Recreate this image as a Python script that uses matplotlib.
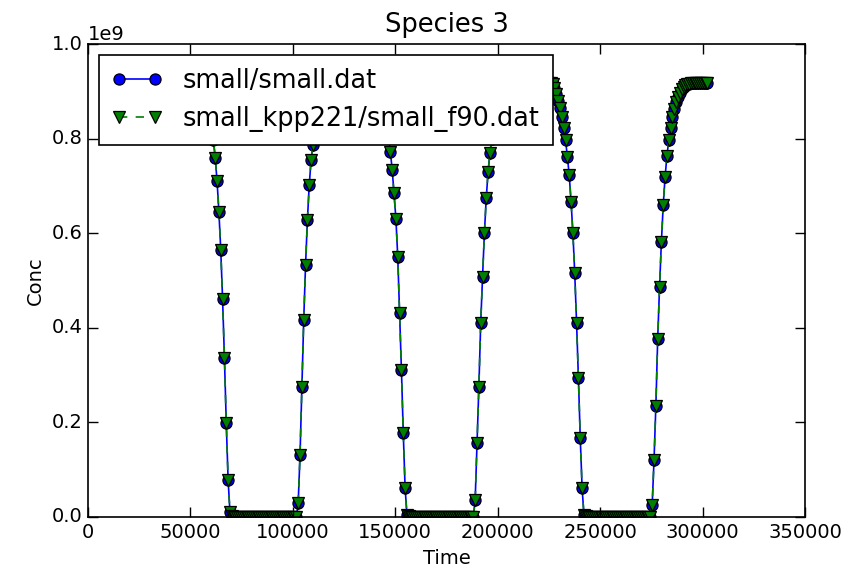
import numpy as np
import matplotlib
matplotlib.use('Agg')
import matplotlib.pyplot as plt

# ---- data (concentration in units of 1e9) ----
time_start = 43200.0
time_step = 900.0

day1 = [0.873, 0.893, 0.904, 0.910, 0.913, 0.915, 0.916, 0.917, 0.917, 0.917,
        0.917, 0.916, 0.915, 0.912, 0.906, 0.896, 0.882, 0.866, 0.847, 0.825,
        0.797, 0.760, 0.710, 0.645, 0.565, 0.460, 0.336, 0.198, 0.078, 0.010]
night1 = [0.002, 0.0, 0.0, 0.0, 0.0, 0.0, 0.0, 0.0, 0.0, 0.0, 0.0, 0.0,
          0.0, 0.0, 0.0, 0.0, 0.0, 0.0, 0.0, 0.0, 0.0, 0.0, 0.0, 0.0,
          0.0, 0.0, 0.0, 0.0, 0.0, 0.0, 0.0, 0.0, 0.0, 0.0, 0.0, 0.0]
day2 = [0.029, 0.131, 0.275, 0.416, 0.533, 0.628, 0.702, 0.755, 0.786, 0.812,
        0.833, 0.851, 0.866, 0.879, 0.889, 0.897, 0.903, 0.908, 0.911, 0.913,
        0.915, 0.916, 0.917, 0.917, 0.917, 0.917, 0.917, 0.917, 0.917, 0.917,
        0.917, 0.917, 0.917, 0.917, 0.917, 0.917, 0.917, 0.917, 0.917, 0.917,
        0.916, 0.914, 0.910, 0.904, 0.896, 0.885, 0.871, 0.854, 0.832, 0.805,
        0.772, 0.734, 0.684, 0.631, 0.550, 0.431, 0.311, 0.177, 0.061, 0.004]
night2 = [0.002, 0.0, 0.0, 0.0, 0.0, 0.0, 0.0, 0.0, 0.0, 0.0, 0.0, 0.0,
          0.0, 0.0, 0.0, 0.0, 0.0, 0.0, 0.0, 0.0, 0.0, 0.0, 0.0, 0.0,
          0.0, 0.0, 0.0, 0.0, 0.0, 0.0, 0.0, 0.0, 0.0, 0.0, 0.0, 0.0]
day3 = [0.036, 0.156, 0.275, 0.410, 0.508, 0.600, 0.674, 0.730, 0.769, 0.800,
        0.825, 0.846, 0.863, 0.877, 0.888, 0.897, 0.904, 0.909, 0.912, 0.914,
        0.916, 0.917, 0.917, 0.917, 0.917, 0.917, 0.917, 0.917, 0.917, 0.917,
        0.917, 0.917, 0.917, 0.917, 0.917, 0.917, 0.917, 0.917, 0.917, 0.917,
        0.917, 0.917, 0.915, 0.906, 0.894, 0.880, 0.864, 0.845, 0.823, 0.797,
        0.762, 0.723, 0.667, 0.600, 0.515, 0.410, 0.293, 0.166, 0.061, 0.004]
night3 = [0.002, 0.0, 0.0, 0.0, 0.0, 0.0, 0.0, 0.0, 0.0, 0.0, 0.0, 0.0,
          0.0, 0.0, 0.0, 0.0, 0.0, 0.0, 0.0, 0.0, 0.0, 0.0, 0.0, 0.0,
          0.0, 0.0, 0.0, 0.0, 0.0, 0.0, 0.0, 0.0, 0.0, 0.0, 0.0, 0.0]
day4 = [0.025, 0.120, 0.235, 0.377, 0.487, 0.582, 0.660, 0.719, 0.763, 0.797,
        0.823, 0.845, 0.863, 0.877, 0.888, 0.897, 0.904, 0.909, 0.913, 0.915,
        0.916, 0.917, 0.917, 0.917, 0.917, 0.917, 0.917, 0.917, 0.917, 0.917,
        0.917]

series_labels = ['small/small.dat', 'small_kpp221/small_f90.dat']
x_ticks = [0, 50000, 100000, 150000, 200000, 250000, 300000, 350000]
y_ticks = [0.0, 0.2, 0.4, 0.6, 0.8, 1.0]

conc_small = np.array(day1 + night1 + day2 + night2 + day3 + night3 + day4) * 1e9
conc_f90 = conc_small.copy()   # the two runs coincide in the picture
time = time_start + time_step * np.arange(len(conc_small))

# ---- plot ----
plt.style.use('classic')
plt.rcParams['font.family'] = ['DejaVu Sans']

fig = plt.figure(figsize=(8.43, 5.84), dpi=100, facecolor='white')
ax = fig.add_axes([88 / 843, (584 - 517) / 584, 717 / 843, 473 / 584])

ax.plot(time, conc_small, '-o', color='b', markeredgecolor='k',
        markersize=8, linewidth=1.2, markeredgewidth=0.9,
        label=series_labels[0])
ax.plot(time, conc_f90, '--v', color='g', markeredgecolor='k',
        markersize=8, linewidth=1.2, markeredgewidth=0.9,
        label=series_labels[1])

ax.set_xlim(0, 350000)
ax.set_ylim(0, 1.0e9)
ax.set_xticks(x_ticks)
ax.set_yticks([v * 1e9 for v in y_ticks])
ax.set_title('Species 3', fontsize=18.5, pad=9)
ax.set_xlabel('Time', fontsize=14)
ax.set_ylabel('Conc', fontsize=14)
ax.tick_params(labelsize=14, length=7, width=1)
ax.yaxis.get_offset_text().set_fontsize(14)
for sp in ax.spines.values():
    sp.set_linewidth(1.2)
leg = ax.legend(loc='upper left', fontsize=18.4, numpoints=2,
                borderaxespad=0.42, borderpad=0.5)
leg.get_frame().set_linewidth(1.2)

fig.savefig('out.png', dpi=100, facecolor='white')
